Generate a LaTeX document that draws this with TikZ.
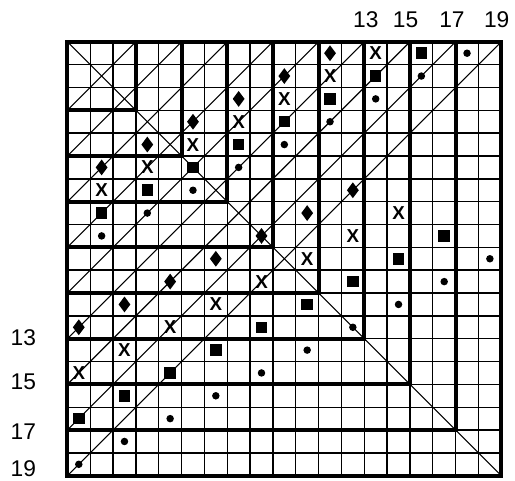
\documentclass[tikz,border=0pt]{standalone}
\usepackage{fontspec}
\setmainfont{Liberation Sans}
\usetikzlibrary{shapes.geometric}

\begin{document}
\begin{tikzpicture}
                    [x=0.6cm, y=-0.6cm,
                     every node/.style={font=\fontsize{17}{17}\selectfont, inner sep=1pt},
                     gridline/.style={line width=1.05pt},
                     diagline/.style={line width=0.8pt},
                     boldline/.style={line width=3pt, line cap=rect, line join=miter},
                     mdiam/.style={diamond, fill, inner sep=0pt, minimum width=9pt, minimum height=12pt},
                     mx/.style={inner sep=0pt, font=\fontsize{14}{14}\selectfont\bfseries},
                     msq/.style={fill, inner sep=0pt, minimum size=8.6pt},
                     mdot/.style={circle, fill, inner sep=0pt, minimum size=5.6pt}]
                    \useasboundingbox (-2.95,-1.83) rectangle (19.6,19.2);
                    % grid
                    \foreach \i in {0,...,19} {
                        \draw[gridline] (\i,0) -- (\i,19);
                        \draw[gridline] (0,\i) -- (19,\i);
                    }
                    % diagonals
                    \draw[diagline] (0,0) -- (19,19);
                    \foreach \c in {3,5,...,19}
                        \draw[diagline] (0,\c) -- (\c,0);
                    % nested L borders
                    \draw[boldline] (0,19) -- (0,0) -- (19,0);
                    \foreach \k in {3,5,...,19}
                        \draw[boldline] (\k,0) -- (\k,\k) -- (0,\k);
                    % markers
                    \foreach \n/\m/\s in {11/mdiam/{}, 13/mx/X, 15/msq/{}, 17/mdot/{}} {
                        \pgfmathtruncatemacro\h{(\n-1)/2}
                        \pgfmathtruncatemacro\g{(\n+1)/2}
                        \foreach \r in {0,...,\h}
                            \node[\m] (p\n-\r) at (\n-2*\r+0.5, \r+0.5) {\s};
                        \foreach \j in {0,...,\g}
                            \node[\m] (q\n-\j) at (2*\j+0.5, \n+1-\j+0.5) {\s};
                    }
                    % labels
                    \foreach \v/\x in {13/13.07, 15/14.81, 17/16.84, 19/18.8}
                        \node (top\v) at (\x,-0.95) {\v};
                    \foreach \v/\y in {13/12.97, 15/14.87, 17/17.07, 19/18.68}
                        \node (left\v) at (-1.93,\y) {\v};
\end{tikzpicture}
\end{document}
